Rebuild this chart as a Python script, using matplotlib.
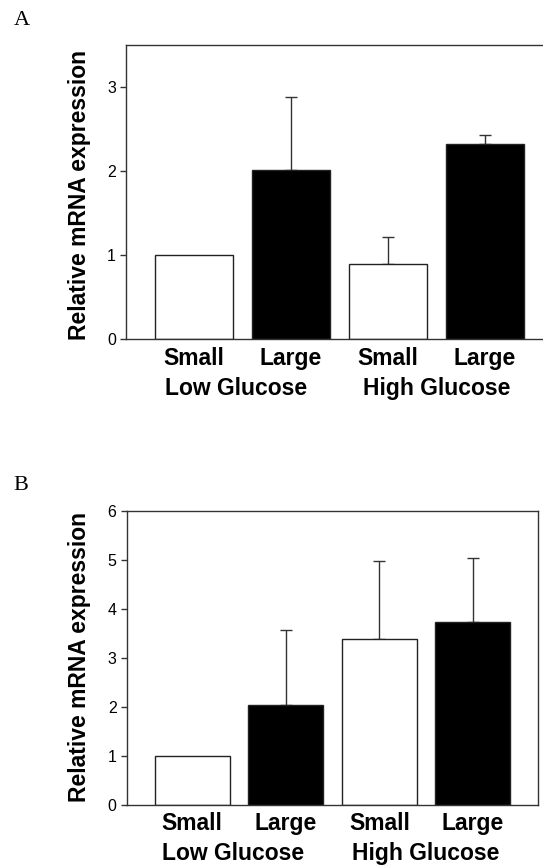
import matplotlib
matplotlib.use("Agg")
import matplotlib.pyplot as plt
from matplotlib.transforms import ScaledTranslation

# Data
categories = ["Small", "Large", "Small", "Large"]
groups = ["Low Glucose", "High Glucose"]
colors = ["white", "black", "white", "black"]

mean_a = [1.00, 2.02, 0.90, 2.33]
err_a = [0.00, 0.87, 0.32, 0.10]

mean_b = [1.00, 2.04, 3.39, 3.73]
err_b = [0.00, 1.52, 1.58, 1.31]

yticks_a = [0, 1, 2, 3]
yticks_b = [0, 1, 2, 3, 4, 5, 6]

plt.rcParams["font.family"] = ["Liberation Sans", "DejaVu Sans"]

W, H, DPI = 543, 865, 100
fig = plt.figure(figsize=(W / DPI, H / DPI), dpi=DPI)


def px_axes(left, top, right, bottom):
    return fig.add_axes([left / W, 1 - bottom / H, (right - left) / W, (bottom - top) / H])


def draw_panel(ax, means, errs, ylim, yticks, letter, letter_xy, label_center):
    x = list(range(len(categories)))
    ax.bar(x, means, width=0.8, color=colors, edgecolor="#222222", linewidth=1.0, zorder=2)
    # upper error bars only, skipping the reference (normalised) bar
    idx = [i for i, e in enumerate(errs) if e > 0]
    ax.errorbar([x[i] for i in idx], [means[i] for i in idx],
                yerr=[[0] * len(idx), [errs[i] for i in idx]], fmt="none",
                ecolor="#333333", elinewidth=1.0, capsize=4.5, capthick=1.0, zorder=1)
    ax.set_xlim(-0.7, 3.7)
    ax.set_ylim(*ylim)
    ax.set_yticks(yticks)
    ax.set_yticklabels([str(t) for t in yticks], fontsize=11.5)
    ax.set_xticks(x)
    ax.set_xticklabels(categories, fontsize=16.5, fontweight="bold")
    ax.tick_params(axis="x", length=0, pad=5.5)
    ax.tick_params(axis="y", length=4.3, width=1.0, color="#333333", pad=3)
    for s in ax.spines.values():
        s.set_color("#333333")
        s.set_linewidth(1.0)

    # group labels under each pair of bars
    base = ax.get_xaxis_transform()
    shifts = [-6, 0]
    for i, g in enumerate(groups):
        xm = (x[2 * i] + x[2 * i + 1]) / 2
        tr = base + ScaledTranslation(shifts[i] / DPI, -55.5 / DPI, fig.dpi_scale_trans)
        ax.text(xm, 0, g, transform=tr, ha="center", va="baseline",
                fontsize=16.5, fontweight="bold")

    fig.text(label_center[0] / W, 1 - label_center[1] / H, "Relative mRNA expression",
             rotation=90, ha="center", va="center", fontsize=16.5, fontweight="bold")
    fig.text(letter_xy[0] / W, 1 - letter_xy[1] / H, letter, ha="left", va="baseline",
             fontsize=16, family=["Liberation Serif", "DejaVu Serif"])


ax_a = px_axes(126, 45.3, 553, 339.3)
draw_panel(ax_a, mean_a, err_a, (0, 3.5), yticks_a, "A", (13.5, 24.7), (79.5, 195.5))

ax_b = px_axes(126.7, 511, 538.4, 804.7)
draw_panel(ax_b, mean_b, err_b, (0, 6), yticks_b, "B", (13.5, 490.3), (79.5, 657.5))

fig.savefig("out.png", dpi=DPI)
